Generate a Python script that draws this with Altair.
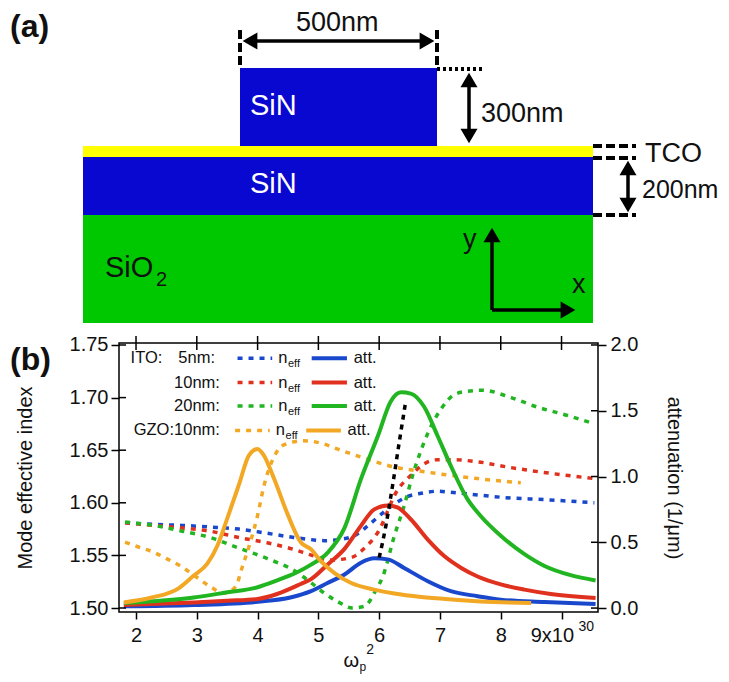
import altair as alt
import pandas as pd

FONT = "Liberation Sans"

# ---------- panel (b) data ----------
blue_n_x = [1.82, 2.29, 2.76, 3.22, 3.69, 4.16, 4.6, 4.88, 5.1, 5.32, 5.59, 5.81, 6.03, 6.25, 6.47, 6.69, 6.96, 7.18, 7.62, 8.06, 8.72, 9.54]
blue_n_y = [1.581, 1.5795, 1.5785, 1.577, 1.575, 1.571, 1.567, 1.565, 1.564, 1.565, 1.5686, 1.578, 1.589, 1.599, 1.606, 1.609, 1.611, 1.61, 1.6075, 1.605, 1.603, 1.6]
red_n_x = [1.82, 2.29, 2.76, 3.22, 3.69, 4.16, 4.6, 4.87, 5.2, 5.54, 5.76, 5.98, 6.3, 6.52, 6.74, 6.96, 7.18, 7.62, 8.11, 8.82, 9.54]
red_n_y = [1.581, 1.5785, 1.576, 1.573, 1.567, 1.562, 1.5556, 1.5505, 1.5456, 1.548, 1.557, 1.572, 1.612, 1.626, 1.637, 1.641, 1.641, 1.639, 1.634, 1.628, 1.623]
green_n_x = [1.82, 2.29, 2.76, 3.22, 3.69, 4.16, 4.6, 4.88, 5.1, 5.32, 5.56, 5.76, 5.95, 6.06, 6.25, 6.41, 6.55, 6.8, 7.04, 7.24, 7.45, 7.7, 8.17, 8.6, 9.1, 9.54]
green_n_y = [1.5817, 1.5785, 1.573, 1.567, 1.557, 1.547, 1.5356, 1.524, 1.514, 1.506, 1.5, 1.5016, 1.5175, 1.53, 1.5686, 1.597, 1.626, 1.666, 1.691, 1.703, 1.706, 1.707, 1.7, 1.691, 1.683, 1.675]
orange_n_x = [1.82, 2.04, 2.29, 2.51, 2.73, 2.98, 3.23, 3.45, 3.65, 3.72, 3.88, 4.0, 4.1, 4.27, 4.43, 4.75, 5.09, 5.32, 5.78, 6.25, 6.69, 7.18, 7.62, 8.33]
orange_n_y = [1.5626, 1.558, 1.553, 1.5467, 1.54, 1.53, 1.52, 1.514, 1.521, 1.534, 1.5626, 1.588, 1.615, 1.6437, 1.655, 1.659, 1.656, 1.651, 1.642, 1.634, 1.63, 1.626, 1.623, 1.619]

blue_a_x = [1.8, 2.95, 4, 4.54, 4.88, 5.15, 5.43, 5.7, 5.92, 6.14, 6.41, 6.8, 7.18, 7.62, 8, 8.72, 9.56]
blue_a_y = [0.013, 0.023, 0.048, 0.08, 0.128, 0.19, 0.255, 0.345, 0.378, 0.37, 0.305, 0.204, 0.128, 0.09, 0.064, 0.046, 0.03]
red_a_x = [1.8, 2.95, 3.5, 4, 4.32, 4.71, 4.88, 5.15, 5.43, 5.7, 5.92, 6.14, 6.3, 6.52, 6.8, 7.07, 7.35, 7.62, 8, 8.39, 8.82, 9.56]
red_a_y = [0.023, 0.043, 0.056, 0.069, 0.107, 0.183, 0.22, 0.33, 0.45, 0.625, 0.75, 0.78, 0.765, 0.675, 0.52, 0.395, 0.305, 0.24, 0.18, 0.14, 0.107, 0.077]
green_a_x = [1.8, 2.4, 2.95, 3.5, 4, 4.32, 4.65, 4.88, 5.15, 5.43, 5.7, 5.98, 6.19, 6.36, 6.52, 6.74, 6.96, 7.18, 7.45, 7.67, 8, 8.39, 8.72, 9.15, 9.56]
green_a_y = [0.038, 0.056, 0.08, 0.12, 0.158, 0.21, 0.272, 0.33, 0.42, 0.61, 0.98, 1.31, 1.57, 1.64, 1.63, 1.53, 1.31, 1.08, 0.83, 0.7, 0.55, 0.41, 0.32, 0.25, 0.21]
orange_a_x = [1.8, 2.26, 2.7, 2.95, 3.17, 3.34, 3.5, 3.69, 3.86, 4.0, 4.1, 4.27, 4.49, 4.71, 4.88, 5.04, 5.26, 5.54, 5.92, 6.25, 6.69, 7.24, 7.89, 8.5]
orange_a_y = [0.043, 0.08, 0.15, 0.247, 0.336, 0.476, 0.68, 0.934, 1.163, 1.21, 1.163, 0.985, 0.718, 0.5, 0.446, 0.357, 0.268, 0.19, 0.14, 0.11, 0.084, 0.064, 0.046, 0.038]
black_x = [6.0, 6.11, 6.22, 6.33, 6.44]
black_y = [0.383, 0.625, 0.93, 1.26, 1.58]

BLUE, RED, GREEN, ORANGE = "#1a48cc", "#e0301e", "#22b522", "#f2a825"

x_ticks = [2, 3, 4, 5, 6, 7, 8, 9]
n_ticks = [1.50, 1.55, 1.60, 1.65, 1.70, 1.75]
a_ticks = [0, 0.5, 1.0, 1.5, 2.0]

leg_rows = [1.7373, 1.7143, 1.6920, 1.6688]
leg_colors = [BLUE, RED, GREEN, ORANGE]
leg_names = ["5nm:", "10nm:", "20nm:", "GZO:10nm:"]
leg_dash_x = [(3.67, 4.24), (3.67, 4.24), (3.67, 4.24), (3.63, 4.2)]
leg_neff_x = [4.34, 4.34, 4.34, 4.3]
leg_line_x = [(4.89, 5.47), (4.89, 5.47), (4.89, 5.47), (4.8, 5.37)]
leg_att_x = [5.58, 5.58, 5.58, 5.48]

PW, PH = 479, 269
xs = alt.Scale(domain=[1.72, 9.6], nice=False, zero=False)
ns = alt.Scale(domain=[1.4962, 1.7519], nice=False, zero=False)
ats = alt.Scale(domain=[-0.03, 2.015], nice=False, zero=False)

x_axis = alt.Axis(values=x_ticks, title=None, grid=False, domain=False, tickSize=7, tickWidth=1.5,
                  tickColor="black", labelFontSize=20, labelColor="#111", labelPadding=6, labelFont=FONT,
                  labelExpr="datum.value == 9 ? '' : datum.label")
n_axis = alt.Axis(values=n_ticks, format=".2f", title="Mode effective index", grid=False, domain=False,
                  orient="left", tickSize=8, tickWidth=1.5, tickColor="black", labelFontSize=20,
                  labelColor="#111", labelFont=FONT, labelPadding=3, titleFont=FONT, titleFontSize=20,
                  titleFontWeight="normal", titlePadding=34, titleColor="#111")
a_axis = alt.Axis(values=a_ticks, format=".1f", title="attenuation (1/μm)", grid=False, domain=False,
                  orient="right", tickSize=8, tickWidth=1.5, tickColor="black", labelFontSize=20,
                  labelColor="#111", labelFont=FONT, labelPadding=4, titleFont=FONT, titleFontSize=20,
                  titleFontWeight="normal", titlePadding=26, titleColor="#111")


def curve(xv, yv, color, dash=None, width=4, scale=ats, yaxis=None):
    kw = dict(color=color, strokeWidth=width, interpolate="monotone")
    if dash:
        kw["strokeDash"] = dash
    return alt.Chart(pd.DataFrame({"x": xv, "y": yv})).mark_line(**kw).encode(
        x=alt.X("x:Q", scale=xs, axis=x_axis),
        y=alt.Y("y:Q", scale=scale, axis=yaxis),
        order=alt.Order("x:Q"),
    )


DASH = [5, 6]
layers = [
    curve(blue_n_x, blue_n_y, BLUE, DASH, 3.5, ns, n_axis),
    curve(red_n_x, red_n_y, RED, DASH, 3.5, ns),
    curve(green_n_x, green_n_y, GREEN, DASH, 3.5, ns),
    curve(orange_n_x, orange_n_y, ORANGE, DASH, 3.5, ns),
    curve(blue_a_x, blue_a_y, BLUE, yaxis=a_axis),
    curve(red_a_x, red_a_y, RED),
    curve(green_a_x, green_a_y, GREEN),
    curve(orange_a_x, orange_a_y, ORANGE),
    curve(black_x, black_y, "black", [5, 5], 3.5),
]


def inner_ticks_x(pos):
    return alt.Chart(pd.DataFrame({"x": x_ticks})).mark_rule(color="black", strokeWidth=1.5).encode(
        x=alt.X("x:Q", scale=xs, axis=x_axis), y=alt.value(pos[0]), y2=alt.value(pos[1]))


def inner_ticks_y(vals, scale, pos):
    return alt.Chart(pd.DataFrame({"y": vals})).mark_rule(color="black", strokeWidth=1.5).encode(
        y=alt.Y("y:Q", scale=scale, axis=None), x=alt.value(pos[0]), x2=alt.value(pos[1]))


layers += [
    inner_ticks_x((-7, 7)),
    inner_ticks_y(n_ticks, ns, (0, 7)),
    inner_ticks_y(a_ticks, ats, (PW - 7, PW)),
]


def label(txt, xv, yv, size=16.5, align="left", color="#111", ypx=None, dy=0):
    enc = dict(x=alt.X("x:Q", scale=xs, axis=x_axis))
    if ypx is None:
        enc["y"] = alt.Y("y:Q", scale=ns, axis=None)
    else:
        enc["y"] = alt.value(ypx)
    return alt.Chart(pd.DataFrame({"x": [xv], "y": [yv], "t": [txt]})).mark_text(
        font=FONT, fontSize=size, align=align, baseline="middle", color=color, dy=dy
    ).encode(text="t:N", **enc)


layers.append(label("ITO:", 1.91, leg_rows[0]))
for i, row in enumerate(leg_rows):
    layers.append(label(leg_names[i], 3.38 if i else 3.30, row, align="right"))
    layers.append(curve(list(leg_dash_x[i]), [row, row], leg_colors[i], DASH, 3.5, ns))
    layers.append(curve(list(leg_line_x[i]), [row, row], leg_colors[i], None, 4, ns))
    layers.append(label("n", leg_neff_x[i], row))
    layers.append(label("eff", leg_neff_x[i] + 0.16, row, size=11, dy=6))
    layers.append(label("att.", leg_att_x[i], row))

layers += [
    label("9x10", 8.85, 0, size=20, align="center", ypx=PH + 24),
    label("30", 9.28, 0, size=14, ypx=PH + 15),
    label("ω", 5.54, 0, size=20, align="center", ypx=PH + 49),
    label("p", 5.73, 0, size=12, align="center", ypx=PH + 55),
    label("2", 5.85, 0, size=14, align="center", ypx=PH + 38),
]

panel_b = alt.layer(*layers).resolve_scale(y="independent").properties(
    width=PW, height=PH, view=alt.ViewConfig(stroke="black", strokeWidth=1.5))

# ---------- panel (a) data (lengths measured on the drawing) ----------
rect_color = ["#0808d0", "#ffff00", "#0808d0", "#00c800"]
rect_x0 = [240, 83, 83, 83]
rect_x1 = [437, 593, 593, 593]
rect_y0 = [68, 146, 157, 215]
rect_y1 = [146, 157, 215, 323]

dash_x0 = [240, 437, 593, 593, 593]
dash_x1 = [240, 437, 636, 636, 636]
dash_y0 = [30, 30, 146, 158, 215]
dash_y1 = [67, 67, 146, 158, 215]

shaft_x0 = [246, 469, 628, 492, 492]
shaft_x1 = [431, 469, 628, 492, 566]
shaft_y0 = [41, 76, 164, 310, 310]
shaft_y1 = [41, 140, 209, 238, 310]

head_x = [250, 427, 469, 469, 628, 628, 492, 568]
head_y = [41, 41, 80, 136, 168, 205, 235, 310]
head_shape = ["triangle-left", "triangle-right", "triangle-up", "triangle-down",
              "triangle-up", "triangle-down", "triangle-up", "triangle-right"]

txt_str = ["500nm", "300nm", "TCO", "y", "x"]
txt_x = [296, 481, 645, 463, 572]
txt_y = [23, 114, 154, 240, 285]

ax = alt.Scale(domain=[119, 598], nice=False, zero=False)
ay = alt.Scale(domain=[8, 343], nice=False, zero=False, reverse=True)
X = lambda f: alt.X(f, scale=ax, axis=None)
Y = lambda f: alt.Y(f, scale=ay, axis=None)

rects = alt.Chart(pd.DataFrame({"x": rect_x0, "x2": rect_x1, "y": rect_y0, "y2": rect_y1, "c": rect_color})).mark_rect().encode(
    x=X("x:Q"), x2="x2:Q", y=Y("y:Q"), y2="y2:Q", color=alt.Color("c:N", scale=None))
dashes = alt.Chart(pd.DataFrame({"x": dash_x0, "x2": dash_x1, "y": dash_y0, "y2": dash_y1})).mark_rule(
    color="black", strokeWidth=4, strokeDash=[9, 4]).encode(x=X("x:Q"), x2="x2:Q", y=Y("y:Q"), y2="y2:Q")
dots = alt.Chart(pd.DataFrame({"x": [437], "x2": [482], "y": [69], "y2": [69]})).mark_rule(
    color="black", strokeWidth=4, strokeDash=[3, 3]).encode(x=X("x:Q"), x2="x2:Q", y=Y("y:Q"), y2="y2:Q")
shafts = alt.Chart(pd.DataFrame({"x": shaft_x0, "x2": shaft_x1, "y": shaft_y0, "y2": shaft_y1})).mark_rule(
    color="black", strokeWidth=3.5).encode(x=X("x:Q"), x2="x2:Q", y=Y("y:Q"), y2="y2:Q")
heads = alt.Chart(pd.DataFrame({"x": head_x, "y": head_y, "s": head_shape})).mark_point(
    filled=True, color="black", opacity=1, size=290).encode(
    x=X("x:Q"), y=Y("y:Q"), shape=alt.Shape("s:N", scale=None))


def atext(s, xv, yv, size=27, color="#111", weight="normal"):
    return alt.Chart(pd.DataFrame({"x": [xv], "y": [yv], "t": [s]})).mark_text(
        font=FONT, fontSize=size, align="left", baseline="middle", color=color, fontWeight=weight
    ).encode(x=X("x:Q"), y=Y("y:Q"), text="t:N")


texts = [
    alt.Chart(pd.DataFrame({"x": txt_x, "y": txt_y, "t": txt_str})).mark_text(
        font=FONT, fontSize=27, align="left", baseline="middle", color="#111"
    ).encode(x=X("x:Q"), y=Y("y:Q"), text="t:N"),
    atext("200nm", 642, 190, 25),
    atext("SiN", 250, 106, 29, "white"),
    atext("SiN", 250, 184, 29, "white"),
    atext("SiO", 105, 268, 29),
    atext("2", 156, 280, 20),
    atext("(a)", 10, 27, 32, "#111", "bold"),
    atext("(b)", 10, 360, 32, "#111", "bold"),
]

panel_a = alt.layer(rects, dashes, dots, shafts, heads, *texts).properties(width=PW, height=335)

chart = alt.vconcat(panel_a, panel_b, spacing=0, bounds="flush").properties(
    padding={"left": 2, "top": 0, "right": 0, "bottom": 0}
).configure_view(stroke=None)

chart.save("out.html", embed_options={"renderer": "svg", "actions": False})
